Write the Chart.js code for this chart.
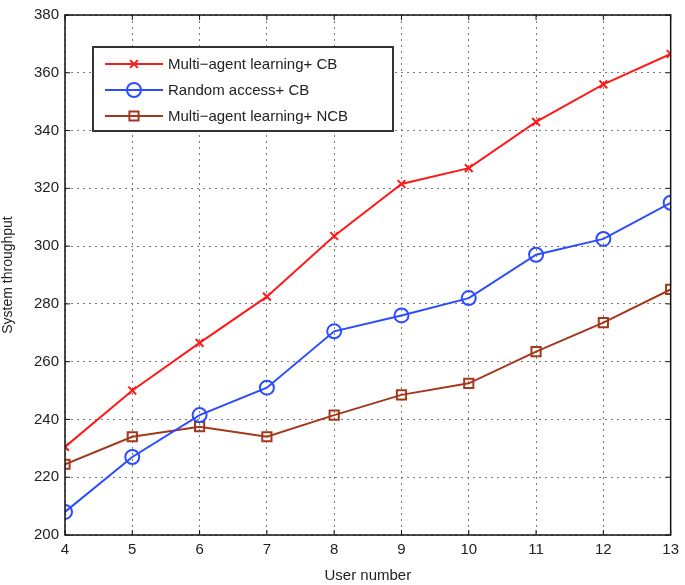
<!DOCTYPE html>
<html>
<head>
<meta charset="utf-8">
<script src="https://cdn.jsdelivr.net/npm/chart.js@4.4.0/dist/chart.umd.min.js"></script>
<style>
  html, body { margin: 0; padding: 0; background: #fff; }
  #wrap { width: 685px; height: 585px; }
</style>
</head>
<body>
<div id="wrap"><canvas id="chart" width="685" height="585"></canvas></div>
<script>
const users = [4, 5, 6, 7, 8, 9, 10, 11, 12, 13];
const maCB = [230.5, 250, 266.5, 282.5, 303.5, 321.5, 327, 343, 356, 366.5];
const raCB = [208, 227, 241.5, 251, 270.5, 276, 282, 297, 302.5, 315];
const maNCB = [224.5, 234, 237.5, 234, 241.5, 248.5, 252.5, 263.5, 273.5, 285];
const yTicks = [200, 220, 240, 260, 280, 300, 320, 340, 360, 380];
const seriesNames = ['Multi\u2212agent learning+ CB', 'Random access+ CB', 'Multi\u2212agent learning+ NCB'];

const FONT = "'Liberation Sans', Arial, sans-serif";

function pts(ys) {
  return users.map((u, i) => ({ x: u, y: ys[i] }));
}

// box, inward ticks and legend drawn on top like the matlab figure
const framePlugin = {
  id: 'frame',
  afterDraw(chart) {
    const ctx = chart.ctx;
    const a = chart.chartArea;
    const xs = chart.scales.x, ys = chart.scales.y;
    ctx.save();
    ctx.strokeStyle = '#111';
    ctx.lineWidth = 1.5;
    ctx.strokeRect(a.left, a.top, a.right - a.left, a.bottom - a.top);
    ctx.lineWidth = 1;
    users.forEach(u => {
      const px = xs.getPixelForValue(u);
      ctx.beginPath();
      ctx.moveTo(px, a.bottom); ctx.lineTo(px, a.bottom - 5);
      ctx.moveTo(px, a.top); ctx.lineTo(px, a.top + 5);
      ctx.stroke();
    });
    yTicks.forEach(v => {
      const py = ys.getPixelForValue(v);
      ctx.beginPath();
      ctx.moveTo(a.left, py); ctx.lineTo(a.left + 5, py);
      ctx.moveTo(a.right, py); ctx.lineTo(a.right - 5, py);
      ctx.stroke();
    });

    // legend
    const bx = 93, by = 47, bw = 300, bh = 84;
    ctx.fillStyle = '#fff';
    ctx.fillRect(bx, by, bw, bh);
    ctx.strokeStyle = '#333';
    ctx.lineWidth = 2;
    ctx.strokeRect(bx, by, bw, bh);
    ctx.font = '15px ' + FONT;
    ctx.textBaseline = 'middle';
    chart.data.datasets.forEach((ds, i) => {
      const cy = by + 17 + i * 26;
      ctx.strokeStyle = ds.borderColor;
      ctx.lineWidth = ds.borderWidth;
      ctx.beginPath();
      ctx.moveTo(bx + 12, cy); ctx.lineTo(bx + 70, cy);
      ctx.stroke();
      ctx.fillStyle = 'rgba(0,0,0,0)';
      ctx.lineWidth = ds.pointBorderWidth;
      Chart.helpers.drawPoint(ctx, {
        pointStyle: ds.pointStyle, radius: ds.pointRadius, borderWidth: ds.pointBorderWidth
      }, bx + 41, cy);
      ctx.fillStyle = '#222';
      ctx.fillText(ds.label, bx + 75, cy + 1);
    });
    ctx.restore();
  }
};

const mkSet = (label, ys, color, style, r) => ({
  label: label,
  data: pts(ys),
  borderColor: color,
  backgroundColor: 'rgba(0,0,0,0)',
  borderWidth: 2,
  pointStyle: style,
  pointRadius: r,
  pointBorderWidth: 2,
  pointBorderColor: color,
  pointBackgroundColor: 'rgba(0,0,0,0)',
  tension: 0
});

new Chart(document.getElementById('chart').getContext('2d'), {
  type: 'line',
  data: {
    datasets: [
      mkSet(seriesNames[0], maCB, '#ff1a1a', 'crossRot', 5.5),
      mkSet(seriesNames[1], raCB, '#2b4dff', 'circle', 7),
      mkSet(seriesNames[2], maNCB, '#a3391c', 'rect', 6.5)
    ]
  },
  options: {
    responsive: false,
    animation: false,
    layout: { padding: { top: 10, right: 12, left: 0, bottom: 0 } },
    plugins: {
      legend: { display: false },
      tooltip: { enabled: false }
    },
    scales: {
      x: {
        type: 'linear',
        min: 4,
        max: 13,
        afterBuildTicks(scale) { scale.ticks = users.map(v => ({ value: v })); },
        afterFit(scale) { scale.height = 50; },
        grid: { color: '#777', lineWidth: 1, drawTicks: false },
        border: { display: false, dash: [2, 4] },
        ticks: { color: '#222', font: { family: FONT, size: 15 }, padding: 6, maxRotation: 0 },
        title: { display: true, text: 'User number', color: '#222', font: { family: FONT, size: 15 }, padding: { top: 1, bottom: 0 } }
      },
      y: {
        min: 200,
        max: 380,
        afterBuildTicks(scale) { scale.ticks = yTicks.map(v => ({ value: v })); },
        afterFit(scale) { scale.width = 65; },
        grid: { color: '#777', lineWidth: 1, drawTicks: false },
        border: { display: false, dash: [2, 4] },
        ticks: { color: '#222', font: { family: FONT, size: 15 }, padding: 6 },
        title: { display: true, text: 'System throughput', color: '#222', font: { family: FONT, size: 14 }, padding: { top: 0, bottom: 3 } }
      }
    }
  },
  plugins: [framePlugin]
});
</script>
</body>
</html>
